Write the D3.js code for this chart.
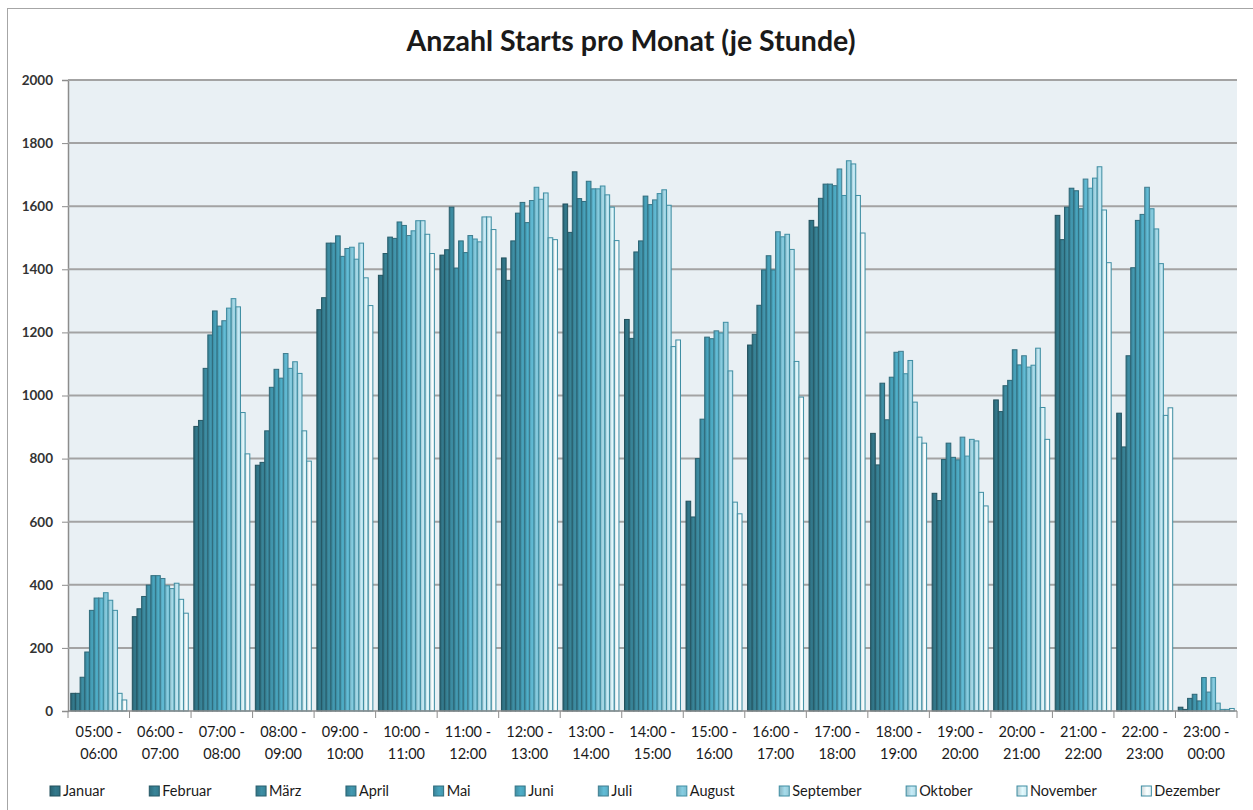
<!DOCTYPE html>
<html>
<head>
<meta charset="utf-8">
<script src="https://cdn.jsdelivr.net/npm/d3@7"></script>
<style>
  body { margin: 0; background: #fff; }
  svg { display: block; font-family: Lato, "Open Sans", sans-serif; }
</style>
</head>
<body>
<div id="chart"></div>
<script>
const width = 1253;
const height = 810;

const hours = ['05:00 -|06:00', '06:00 -|07:00', '07:00 -|08:00', '08:00 -|09:00', '09:00 -|10:00',
    '10:00 -|11:00', '11:00 -|12:00', '12:00 -|13:00', '13:00 -|14:00', '14:00 -|15:00',
    '15:00 -|16:00', '16:00 -|17:00', '17:00 -|18:00', '18:00 -|19:00', '19:00 -|20:00',
    '20:00 -|21:00', '21:00 -|22:00', '22:00 -|23:00', '23:00 -|00:00'];

const months = ['Januar', 'Februar', 'März', 'April', 'Mai', 'Juni', 'Juli',
    'August', 'September', 'Oktober', 'November', 'Dezember'];

const monthColors = ['#2f6f80', '#347a8c', '#398397', '#3d8ca2', '#4296ad', '#48a0b8',
    '#5aadc5', '#7bbccf', '#98c9d7', '#b4d8e3', '#cfe6ed', '#e6f2f6'];

const yTicks = [0, 200, 400, 600, 800, 1000, 1200, 1400, 1600, 1800, 2000];

// one row per hour, 12 values Jan..Dez
const starts = [
    [56, 56, 107, 187, 319, 358, 358, 375, 351, 319, 56, 35],
    [299, 324, 363, 399, 429, 429, 420, 397, 388, 405, 354, 310],
    [902, 921, 1086, 1192, 1268, 1220, 1237, 1277, 1307, 1281, 946, 815],
    [779, 788, 888, 1026, 1083, 1055, 1133, 1086, 1107, 1070, 888, 792],
    [1272, 1310, 1483, 1483, 1506, 1441, 1466, 1470, 1432, 1483, 1373, 1285],
    [1381, 1450, 1502, 1498, 1550, 1539, 1507, 1522, 1554, 1554, 1511, 1450],
    [1445, 1462, 1597, 1404, 1490, 1453, 1507, 1496, 1487, 1566, 1566, 1526],
    [1436, 1365, 1490, 1578, 1612, 1548, 1618, 1660, 1622, 1642, 1500, 1494],
    [1607, 1517, 1709, 1624, 1615, 1679, 1655, 1655, 1664, 1636, 1597, 1491],
    [1241, 1181, 1455, 1490, 1632, 1605, 1620, 1640, 1652, 1603, 1155, 1176],
    [665, 615, 800, 925, 1185, 1180, 1205, 1198, 1232, 1078, 662, 625],
    [1160, 1194, 1286, 1398, 1443, 1398, 1519, 1503, 1511, 1463, 1108, 995],
    [1555, 1534, 1625, 1670, 1670, 1665, 1718, 1634, 1744, 1734, 1634, 1515],
    [880, 780, 1039, 923, 1058, 1137, 1140, 1069, 1111, 979, 868, 849],
    [690, 667, 797, 849, 804, 796, 868, 808, 861, 856, 693, 650],
    [986, 949, 1031, 1048, 1145, 1097, 1126, 1090, 1096, 1150, 962, 861],
    [1571, 1494, 1597, 1657, 1649, 1592, 1686, 1657, 1689, 1725, 1588, 1421],
    [944, 837, 1126, 1405, 1555, 1574, 1660, 1592, 1528, 1418, 937, 961],
    [12, 5, 40, 53, 32, 106, 60, 106, 25, 5, 5, 8]
];

const plot = {left: 68, right: 1237, top: 80, bottom: 711};

const svg = d3.select('#chart')
    .append('svg')
    .attr('width', width)
    .attr('height', height);

const defs = svg.append('defs');

// horizontal shading per month, darker on the left like the 3D excel bars
monthColors.forEach((c, i) => {
    const g = defs.append('linearGradient')
        .attr('id', 'grad' + i)
        .attr('x1', '0%').attr('x2', '100%')
        .attr('y1', '0%').attr('y2', '0%');
    g.append('stop').attr('offset', '0%').attr('stop-color', d3.color(c).darker(0.35));
    g.append('stop').attr('offset', '55%').attr('stop-color', d3.color(c).brighter(0.25));
    g.append('stop').attr('offset', '100%').attr('stop-color', c);
});

// outer frame
svg.append('rect')
    .attr('x', 7.5).attr('y', 8.5)
    .attr('width', 1300).attr('height', 900)
    .attr('fill', 'none')
    .attr('stroke', '#a6a6a6');

svg.append('text')
    .attr('x', 631).attr('y', 51)
    .attr('text-anchor', 'middle')
    .attr('font-size', 28.5)
    .attr('font-weight', 'bold')
    .attr('fill', '#1a1a1a')
    .text('Anzahl Starts pro Monat (je Stunde)');

const x0 = d3.scaleBand()
    .domain(hours)
    .range([plot.left, plot.right])
    .paddingInner(0.09)
    .paddingOuter(0.045);

const x1 = d3.scaleBand()
    .domain(d3.range(months.length))
    .range([0, x0.bandwidth()]);

const y = d3.scaleLinear()
    .domain([0, 2000])
    .range([plot.bottom, plot.top]);

svg.append('rect')
    .attr('x', plot.left).attr('y', plot.top)
    .attr('width', plot.right - plot.left)
    .attr('height', plot.bottom - plot.top)
    .attr('fill', '#e9f0f4');

// grid + y axis
const yAxis = svg.append('g')
    .attr('transform', `translate(${plot.left},0)`)
    .call(d3.axisLeft(y).tickValues(yTicks).tickFormat(d3.format('d')).tickSize(6).tickPadding(9));
yAxis.select('.domain').attr('stroke', '#8c8c8c').attr('stroke-width', 1.5);
yAxis.selectAll('.tick line').attr('stroke', '#8c8c8c');
yAxis.selectAll('.tick text')
    .attr('font-size', 13.5)
    .attr('font-weight', 'bold')
    .attr('fill', '#333')
    .attr('font-family', 'Lato, sans-serif');

svg.append('g')
    .selectAll('line')
    .data(yTicks.filter(d => d > 0))
    .enter()
    .append('line')
    .attr('x1', plot.left).attr('x2', plot.right)
    .attr('y1', d => y(d)).attr('y2', d => y(d))
    .attr('stroke', '#a3a3a3')
    .attr('stroke-width', 2);

// bars
svg.append('g')
    .selectAll('g')
    .data(starts)
    .enter()
    .append('g')
    .attr('transform', (d, i) => `translate(${x0(hours[i])},0)`)
    .selectAll('rect')
    .data(d => d)
    .enter()
    .append('rect')
    .attr('x', (d, j) => x1(j))
    .attr('y', d => y(d))
    .attr('width', x1.bandwidth())
    .attr('height', d => y(0) - y(d))
    .attr('fill', (d, j) => `url(#grad${j})`)
    .attr('stroke', (d, j) => j < 7 ? d3.color(monthColors[j]).darker(0.9) : '#3f8ea3')
    .attr('stroke-width', 1);

// x axis
const step = x0.step();
const boundaries = d3.range(hours.length + 1).map(i => plot.left + i * step);
svg.append('line')
    .attr('x1', plot.left).attr('x2', plot.right)
    .attr('y1', plot.bottom).attr('y2', plot.bottom)
    .attr('stroke', '#8c8c8c').attr('stroke-width', 1.5);
svg.append('g')
    .selectAll('line')
    .data(boundaries)
    .enter()
    .append('line')
    .attr('x1', d => d).attr('x2', d => d)
    .attr('y1', plot.bottom).attr('y2', plot.bottom + 7)
    .attr('stroke', '#8c8c8c');

const xLabels = svg.append('g')
    .selectAll('text')
    .data(hours)
    .enter()
    .append('text')
    .attr('x', d => x0(d) + x0.bandwidth() / 2)
    .attr('y', 737)
    .attr('text-anchor', 'middle')
    .attr('font-size', 14.5)
    .attr('fill', '#1a1a1a');
xLabels.append('tspan').text(d => d.split('|')[0]);
xLabels.append('tspan')
    .attr('x', d => x0(d) + x0.bandwidth() / 2)
    .attr('dy', 22)
    .text(d => d.split('|')[1]);

// legend, laid out by text width then stretched to span like the original
const legend = svg.append('g');
const items = legend.selectAll('g')
    .data(months)
    .enter()
    .append('g');
items.append('rect')
    .attr('y', 786)
    .attr('width', 10).attr('height', 10)
    .attr('fill', (d, i) => `url(#grad${i})`)
    .attr('stroke', (d, i) => i < 7 ? d3.color(monthColors[i]).darker(0.9) : '#3f8ea3');
items.append('text')
    .attr('x', 13)
    .attr('y', 796)
    .attr('font-size', 14.5)
    .attr('fill', '#1a1a1a')
    .text(d => d);

const widths = [];
items.each(function () { widths.push(this.querySelector('text').getComputedTextLength() + 13); });
const totalText = d3.sum(widths);
const legendStart = 50;
const legendEnd = 1220;
const gap = (legendEnd - legendStart - totalText) / (months.length - 1);
let cx = legendStart;
items.attr('transform', (d, i) => {
    const t = `translate(${cx},0)`;
    cx += widths[i] + gap;
    return t;
});
</script>
</body>
</html>
